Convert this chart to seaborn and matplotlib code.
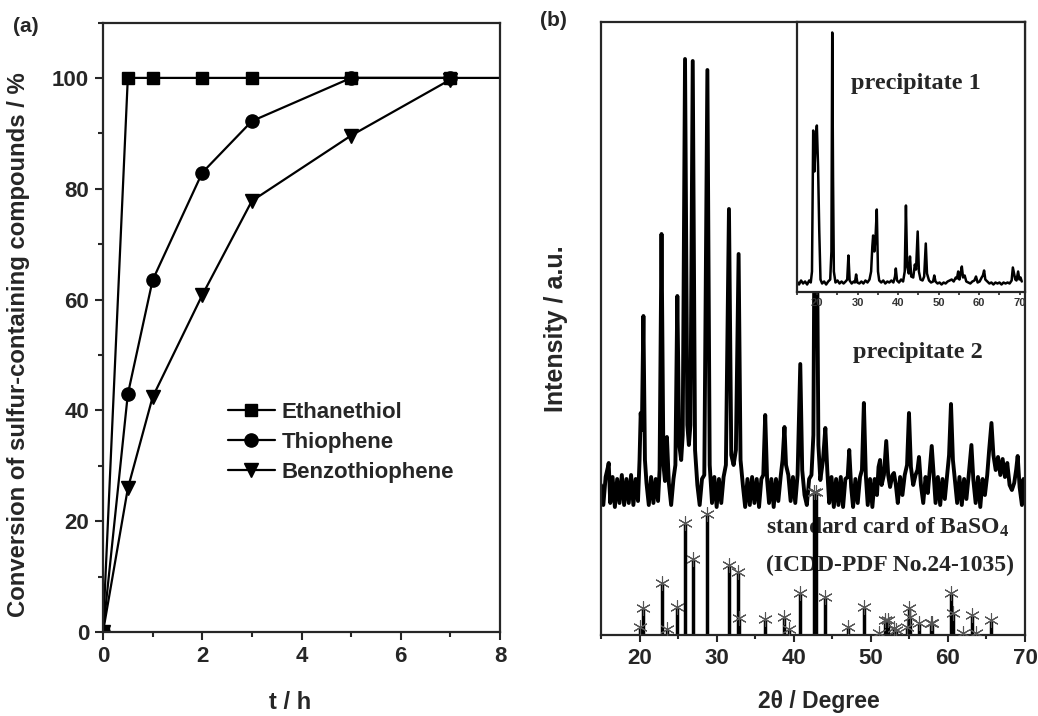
import numpy as np
import pandas as pd
import seaborn as sns
import matplotlib.pyplot as plt
from matplotlib.ticker import MultipleLocator

# ---- (a) conversion vs time ----
t_eth = [0, 0.5, 1, 2, 3, 5, 7, 8.5]
conv_eth = [0, 100, 100, 100, 100, 100, 100, 100]
t_thio = [0, 0.5, 1, 2, 3, 5, 7]
conv_thio = [0, 42.9, 63.5, 82.9, 92.2, 100, 100]
t_benzo = [0, 0.5, 1, 2, 3, 5, 7]
conv_benzo = [0, 25.9, 42.4, 60.8, 77.8, 89.6, 99.7]

# ---- (b) XRD patterns ----
p2_theta = [15.0, 15.3, 15.6, 15.9, 16.0, 16.2, 16.5, 16.8, 17.1, 17.4, 17.7, 18.0, 18.3, 18.6,
            18.9, 19.2, 19.5, 19.8, 20.0, 20.15, 20.3, 20.5, 20.7, 20.9, 21.2, 21.5, 21.8, 22.1,
            22.4, 22.6, 22.85, 23.1, 23.3, 23.55, 23.8, 24.1, 24.4, 24.65, 24.9, 25.15, 25.4, 25.6,
            25.9, 26.2, 26.4, 26.6, 26.9, 27.2, 27.5, 27.8, 28.1, 28.4, 28.8, 29.1, 29.4, 29.7,
            30.0, 30.3, 30.6, 30.9, 31.2, 31.6, 31.9, 32.2, 32.5, 32.85, 33.1, 33.4, 33.7, 34.0,
            34.3, 34.6, 34.9, 35.2, 35.5, 35.8, 36.05, 36.3, 36.55, 36.8, 37.1, 37.4, 37.7, 38.0,
            38.3, 38.55, 38.8, 39.0, 39.3, 39.6, 39.9, 40.2, 40.5, 40.85, 41.1, 41.4, 41.7, 42.0,
            42.3, 42.55, 42.7, 42.85, 43.0, 43.2, 43.45, 43.8, 44.1, 44.35, 44.6, 44.9, 45.2, 45.5,
            45.8, 46.1, 46.4, 46.7, 47.0, 47.2, 47.45, 47.7, 48.0, 48.3, 48.6, 48.85, 49.1, 49.35,
            49.6, 49.9, 50.2, 50.5, 50.8, 51.0, 51.2, 51.4, 51.7, 52.0, 52.25, 52.5, 52.8, 53.0,
            53.25, 53.5, 53.8, 54.1, 54.4, 54.7, 54.95, 55.2, 55.5, 55.8, 56.05, 56.25, 56.5, 56.8,
            57.1, 57.4, 57.65, 57.9, 58.15, 58.4, 58.7, 59.0, 59.3, 59.6, 59.9, 60.15, 60.4, 60.65,
            60.9, 61.2, 61.5, 61.8, 62.1, 62.4, 62.7, 63.05, 63.3, 63.6, 63.9, 64.2, 64.5, 64.8,
            65.1, 65.35, 65.65, 65.9, 66.2, 66.5, 66.8, 67.1, 67.4, 67.7, 68.0, 68.3, 68.6, 68.85,
            69.05, 69.3, 69.6, 69.8, 70.0]
p2_int = [150, 130, 158, 168, 172, 132, 158, 128, 156, 132, 160, 130, 156, 132,
          160, 130, 156, 134, 175, 222, 205, 319, 175, 152, 130, 158, 132, 156,
          134, 165, 401, 170, 154, 198, 152, 130, 156, 170, 339, 190, 175, 200,
          576, 210, 190, 210, 574, 185, 150, 130, 156, 160, 565, 170, 132, 158,
          128, 156, 132, 158, 170, 426, 180, 170, 185, 381, 175, 150, 128, 156,
          130, 158, 132, 156, 128, 156, 160, 220, 155, 132, 156, 128, 156, 134,
          158, 175, 208, 170, 160, 134, 158, 132, 160, 271, 165, 140, 130, 156,
          160, 200, 420, 360, 420, 190, 155, 175, 207, 165, 132, 158, 128, 156,
          130, 158, 128, 156, 158, 185, 148, 128, 156, 132, 158, 165, 232, 160,
          130, 156, 128, 156, 140, 168, 175, 150, 160, 194, 160, 148, 160, 162,
          150, 132, 158, 140, 160, 170, 222, 168, 150, 160, 165, 178, 150, 132,
          158, 142, 165, 189, 160, 132, 158, 130, 156, 136, 160, 180, 231, 175,
          155, 132, 158, 130, 156, 136, 160, 190, 155, 132, 158, 128, 156, 140,
          160, 185, 212, 180, 165, 178, 160, 176, 158, 172, 150, 145, 152, 165,
          179, 148, 130, 156, 142]

p1_theta = [15.0, 15.5, 16.0, 16.5, 17.0, 17.5, 18.0, 18.4, 18.7, 19.0, 19.3, 19.6, 19.9, 20.2,
            20.5, 20.8, 21.2, 21.7, 22.2, 22.7, 23.2, 23.5, 23.7, 23.9, 24.1, 24.5, 25.0, 25.5,
            26.0, 26.5, 27.0, 27.4, 27.7, 28.0, 28.5, 29.0, 29.3, 29.6, 29.9, 30.4, 30.9, 31.4,
            31.9, 32.4, 32.9, 33.3, 33.6, 33.8, 34.1, 34.4, 34.7, 35.0, 35.3, 35.8, 36.3, 36.8,
            37.3, 37.8, 38.3, 38.8, 39.2, 39.4, 39.7, 40.2, 40.7, 41.2, 41.6, 41.9, 42.2, 42.6,
            42.9, 43.2, 43.7, 44.1, 44.4, 44.8, 45.1, 45.5, 46.0, 46.4, 46.8, 47.1, 47.6, 48.1,
            48.6, 48.9, 49.2, 49.7, 50.2, 50.7, 51.2, 51.7, 52.2, 52.7, 53.2, 53.7, 54.2, 54.5,
            54.8, 55.1, 55.4, 55.7, 56.0, 56.4, 56.8, 57.3, 57.8, 58.3, 58.8, 59.2, 59.6, 60.1,
            60.6, 60.9, 61.2, 61.5, 62.0, 62.5, 63.0, 63.5, 64.0, 64.5, 65.0, 65.5, 66.0, 66.5,
            67.0, 67.5, 68.0, 68.3, 68.6, 68.9, 69.2, 69.6, 69.9, 70.2, 70.5]
p1_int = [10, 7, 11, 8, 10, 7, 11, 9, 20, 161, 120, 150, 166, 125,
          60, 12, 8, 10, 7, 10, 12, 40, 259, 113, 20, 9, 11, 8,
          10, 8, 10, 12, 36, 11, 8, 10, 9, 17, 9, 8, 10, 8,
          11, 9, 12, 20, 45, 56, 40, 55, 82, 20, 11, 9, 11, 8,
          10, 9, 11, 9, 15, 23, 11, 9, 12, 10, 20, 86, 25, 18,
          35, 15, 14, 27, 22, 60, 20, 12, 11, 15, 48, 18, 11, 9,
          10, 16, 10, 8, 9, 7, 9, 8, 10, 11, 12, 10, 14, 13,
          20, 12, 18, 25, 14, 16, 10, 9, 8, 10, 11, 15, 9, 10,
          14, 16, 21, 12, 10, 8, 9, 7, 9, 8, 9, 7, 9, 8,
          9, 8, 11, 24, 18, 12, 11, 20, 12, 14, 10]

std_theta = [20.0, 20.5, 22.85, 23.55, 24.9, 25.9, 26.9, 28.8, 31.6, 32.75, 32.95, 36.3,
             38.8, 39.4, 40.85, 42.65, 42.95, 44.1, 47.1, 49.1, 51.0, 51.9, 52.2, 53.0, 53.3,
             54.7, 54.95, 55.1, 56.3, 57.8, 58.0, 60.4, 60.6, 61.9, 63.1, 63.7, 65.6]
std_int = [8, 27, 52, 6, 28, 112, 76, 121, 70, 63, 17, 16,
           18, 6, 42, 143, 143, 38, 8, 28, 2, 15, 15, 7, 5,
           8, 27, 18, 12, 12, 12, 42, 22, 2, 20, 2, 15]

sns.set_style('ticks')
plt.rcParams['font.family'] = ['Liberation Sans', 'DejaVu Sans']
plt.rcParams['font.weight'] = 'bold'
plt.rcParams['axes.labelweight'] = 'bold'
plt.rcParams['axes.linewidth'] = 1.5
plt.rcParams['mathtext.fontset'] = 'custom'
plt.rcParams['mathtext.rm'] = 'Liberation Serif:bold'
plt.rcParams['mathtext.default'] = 'rm'

W, H = 1038, 716
fig = plt.figure(figsize=(W / 100, H / 100), dpi=100)

def px_axes(l, t, r, b):
    return fig.add_axes([l / W, 1 - b / H, (r - l) / W, (b - t) / H])

# ---------------- panel (a) ----------------
ax_a = px_axes(103, 22.5, 500, 632)
line_kw = dict(color='black', linewidth=1.6, markersize=8, mec='black', mew=1)
sns.lineplot(x=t_eth, y=conv_eth, marker='s', label='Ethanethiol', ax=ax_a, **line_kw)
sns.lineplot(x=t_thio, y=conv_thio, marker='o', label='Thiophene', ax=ax_a,
             **{**line_kw, 'markersize': 9.5})
sns.lineplot(x=t_benzo, y=conv_benzo, marker='v', label='Benzothiophene', ax=ax_a,
             **{**line_kw, 'markersize': 9.5})
ax_a.set_xlim(0, 8)
ax_a.set_ylim(0, 110)
ax_a.xaxis.set_major_locator(MultipleLocator(2))
ax_a.xaxis.set_minor_locator(MultipleLocator(1))
ax_a.yaxis.set_major_locator(MultipleLocator(20))
ax_a.yaxis.set_minor_locator(MultipleLocator(10))
ax_a.tick_params(which='major', direction='out', length=6, width=1.5, labelsize=16, pad=4)
ax_a.tick_params(which='minor', direction='out', length=3.5, width=1.5)
for s in ax_a.spines.values():
    s.set_linewidth(1.6)
ax_a.set_xlabel('t / h', fontsize=17, va='top')
ax_a.xaxis.set_label_coords(0.471, -0.096)
ax_a.set_ylabel('Conversion of sulfur-containing compounds / %', fontsize=17.2)
ax_a.yaxis.set_label_coords(-0.183, 0.471)
ax_a.legend(frameon=False, loc='upper left', bbox_to_anchor=(0.315, 0.378),
            borderpad=0, borderaxespad=0, handlelength=2.1, handletextpad=0.3,
            labelspacing=0.42, fontsize=16)

# ---------------- panel (b) ----------------
ax_b = px_axes(601, 22, 1025, 635)
ax_b.vlines(std_theta, 0, std_int, color='black', linewidth=2.5, zorder=2)
sns.scatterplot(x=std_theta, y=std_int, marker=(6, 2, 0), s=100, color='#555555',
                linewidth=0.8, ax=ax_b, zorder=3)
sns.lineplot(x=p2_theta, y=p2_int, color='black', linewidth=2.8, ax=ax_b, zorder=2)
ax_b.set_xlim(15, 70)
ax_b.set_ylim(0, 613)
ax_b.set_yticks([])
ax_b.xaxis.set_major_locator(MultipleLocator(10))
ax_b.xaxis.set_minor_locator(MultipleLocator(5))
ax_b.tick_params(which='major', direction='out', length=5, width=1.5, labelsize=16, pad=4)
ax_b.tick_params(which='minor', direction='out', length=3, width=1.5)
for s in ax_b.spines.values():
    s.set_linewidth(1.6)
ax_b.set_xlabel('2θ / Degree', fontsize=16.5, va='top')
ax_b.xaxis.set_label_coords(0.514, -0.090)
ax_b.set_ylabel('Intensity / a.u.', fontsize=18)
ax_b.yaxis.set_label_coords(-0.078, 0.50)

serif = ['Liberation Serif', 'DejaVu Serif']
ax_b.text(0.748, 0.461, 'precipitate 2', transform=ax_b.transAxes, ha='center', va='center',
          family=serif, fontsize=17.5, fontweight='bold', zorder=1)
ax_b.text(0.675, 0.176, 'standard card of BaSO$_4$', transform=ax_b.transAxes, ha='center',
          va='center', family=serif, fontsize=17, fontweight='bold', zorder=1)
ax_b.text(0.681, 0.114, '(ICDD-PDF No.24-1035)', transform=ax_b.transAxes, ha='center',
          va='center', family=serif, fontsize=17, fontweight='bold', zorder=1)

# inset: precipitate 1
ax_in = px_axes(797, 22, 1025, 291.5)
ax_in.set_zorder(5)
ax_in.set_facecolor('white')
sns.lineplot(x=p1_theta, y=p1_int, color='black', linewidth=1.8, ax=ax_in)
ax_in.set_xlim(15, 71.3)
ax_in.set_ylim(0, 269.5)
ax_in.set_yticks([])
ax_in.xaxis.set_major_locator(MultipleLocator(10))
ax_in.xaxis.set_minor_locator(MultipleLocator(5))
ax_in.tick_params(which='major', direction='out', length=2.5, width=1.2, labelsize=8,
                  pad=2, labelcolor='#333333')
ax_in.tick_params(which='minor', direction='out', length=2.5, width=1.2)
for s in ax_in.spines.values():
    s.set_linewidth(1.6)
ax_in.text(0.52, 0.77, 'precipitate 1', transform=ax_in.transAxes, ha='center', va='center',
           family=serif, fontsize=17.5, fontweight='bold')
for tick in ax_in.xaxis.get_major_ticks():
    tick.label1.set_clip_on(True)
    tick.label1.set_clip_box(ax_b.bbox)

fig.text(13 / W, 1 - 27 / H, '(a)', fontsize=15, fontweight='bold', va='center')
fig.text(540 / W, 1 - 21 / H, '(b)', fontsize=15, fontweight='bold', va='center')

fig.savefig('out.png', dpi=100)
